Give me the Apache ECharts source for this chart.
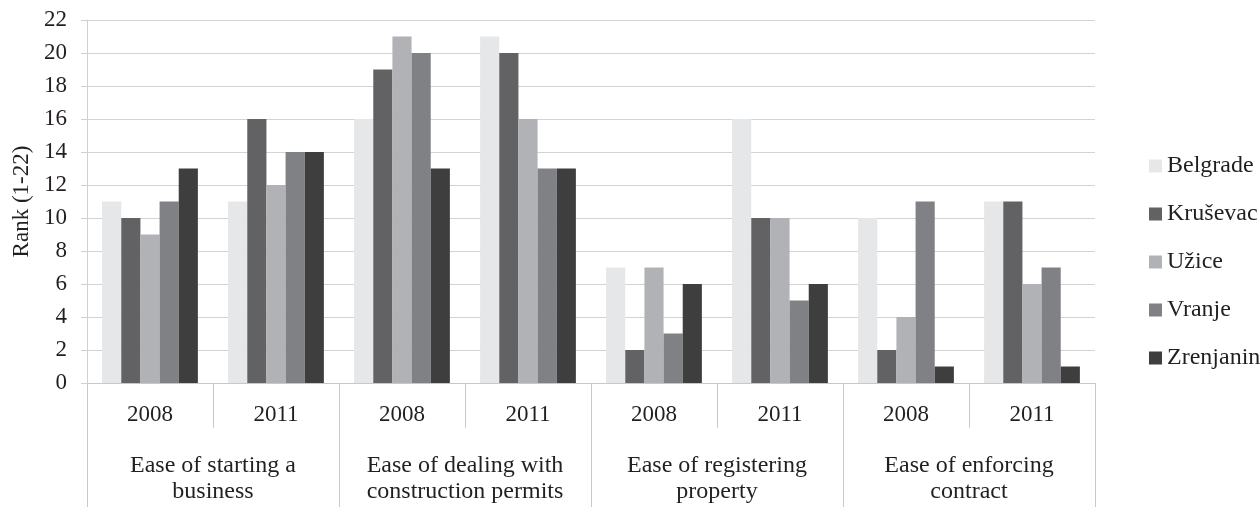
<html>
<head>
<meta charset="utf-8">
<script src="https://cdn.jsdelivr.net/npm/echarts@6/dist/echarts.min.js"></script>
<style>
    body { margin: 0; padding: 0; background: #fff; }
    #content { width: 1260px; height: 507px; }
</style>
</head>
<body>
<div id="content"></div>
<script type="text/javascript">
    var years = ['2008', '2011', '2008', '2011', '2008', '2011', '2008', '2011'];
    var groups = ['Ease of starting a\nbusiness', 'Ease of dealing with\nconstruction permits',
        'Ease of registering\nproperty', 'Ease of enforcing\ncontract'];
    var cities = ['Belgrade', 'Kruševac', 'Užice', 'Vranje', 'Zrenjanin'];
    var belgrade = [11, 11, 16, 21, 7, 16, 10, 11];
    var krusevac = [10, 16, 19, 20, 2, 10, 2, 11];
    var uzice = [9, 12, 21, 16, 7, 10, 4, 6];
    var vranje = [11, 14, 20, 13, 3, 5, 11, 7];
    var zrenjanin = [13, 14, 13, 13, 6, 6, 1, 1];
    var yTicks = [0, 2, 4, 6, 8, 10, 12, 14, 16, 18, 20, 22];

    var colors = ['#e6e7e8', '#626264', '#b1b2b5', '#808184', '#3e3e3e'];
    var font = 'Liberation Serif';
    var textColor = '#231f20';

    var chart = echarts.init(document.getElementById('content'));
    var allValues = [belgrade, krusevac, uzice, vranje, zrenjanin];
    var series = [];
    for (var c = 0; c < cities.length; c++) {
        series.push({
            name: cities[c],
            type: 'bar',
            xAxisIndex: 0,
            data: allValues[c],
            barGap: '0%',
            barCategoryGap: '24%',
            itemStyle: { color: colors[c] }
        });
    }

    var option = {
        animation: false,
        color: colors,
        textStyle: { fontFamily: font, color: textColor },
        grid: { left: 87, right: 165, top: 20, bottom: 124 },
        legend: {
            orient: 'vertical',
            left: 1144,
            top: 149,
            icon: 'rect',
            itemWidth: 13,
            itemHeight: 13,
            itemGap: 24,
            data: cities,
            textStyle: { fontFamily: font, fontSize: 24, lineHeight: 24, color: textColor }
        },
        xAxis: [{
            type: 'category',
            data: years,
            position: 'bottom',
            axisLine: { show: true, lineStyle: { color: '#c8c8c8', width: 1 } },
            axisTick: { show: true, interval: 0, length: 45, lineStyle: { color: '#c8c8c8' } },
            axisLabel: { interval: 0, margin: 20, fontFamily: font, fontSize: 23, color: textColor }
        }, {
            type: 'category',
            data: groups,
            position: 'bottom',
            axisLine: { show: false },
            axisTick: { show: true, interval: 0, length: 124, lineStyle: { color: '#c8c8c8' } },
            axisLabel: { interval: 0, margin: 70, fontFamily: font, fontSize: 24, lineHeight: 26, color: textColor }
        }],
        yAxis: {
            type: 'value',
            min: yTicks[0],
            max: yTicks[yTicks.length - 1],
            interval: 2,
            name: 'Rank (1-22)',
            nameLocation: 'middle',
            nameGap: 54,
            nameRotate: 90,
            nameTextStyle: { fontFamily: font, fontSize: 23, color: textColor },
            axisLine: { show: true, lineStyle: { color: '#d0d0d0' } },
            axisTick: { show: true, length: 6, lineStyle: { color: '#d0d0d0' } },
            axisLabel: { margin: 20, fontFamily: font, fontSize: 23, color: textColor },
            splitLine: { show: true, lineStyle: { color: '#d3d3d3', width: 1 } }
        },
        series: series
    };
    chart.setOption(option);
</script>
</body>
</html>
